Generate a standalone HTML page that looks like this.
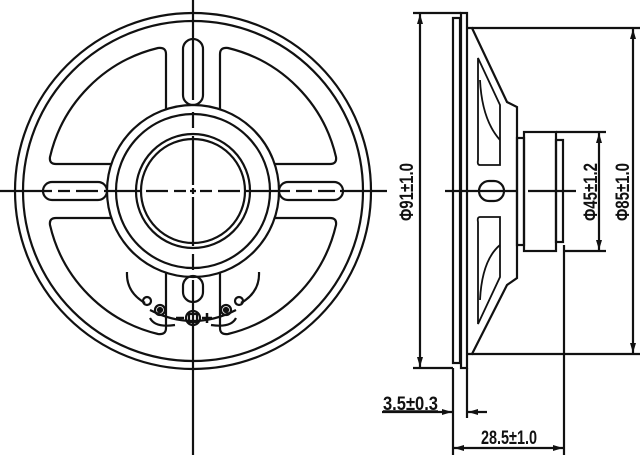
<!DOCTYPE html>
<html><head><style>html,body{margin:0;padding:0;background:#fff}svg{display:block}</style></head><body>
<svg width="640" height="455" viewBox="0 0 640 455" xmlns="http://www.w3.org/2000/svg" fill="none" stroke="#111" stroke-width="2.2">
<defs>
<marker id="a" viewBox="0 0 10 6" refX="10" refY="3" markerWidth="10" markerHeight="6" orient="auto-start-reverse" markerUnits="userSpaceOnUse"><path d="M0,0 L10,3 L0,6 Z" fill="#111" stroke="none"/></marker>
</defs>
<!-- front view -->
<circle cx="193" cy="191" r="178"/>
<circle cx="193" cy="191" r="170"/>
<circle cx="193" cy="191" r="86"/>
<circle cx="193" cy="191" r="77"/>
<circle cx="193" cy="191" r="57"/>
<circle cx="193" cy="191" r="52"/>
<g stroke-linejoin="round">
<path d="M220,109 L220,54 Q220,47 228,48 A146,146 0 0 1 336,157 Q337,164 330,164 L275,164"/>
<path d="M166,109 L166,54 Q166,47 158,48 A146,146 0 0 0 50,157 Q49,164 56,164 L111,164"/>
<path d="M275,218 L330,218 Q337,218 336,225 A146,146 0 0 1 228,334 Q220,335 220,328 L220,272"/>
<path d="M111,218 L56,218 Q49,218 50,225 A146,146 0 0 0 158,334 Q166,335 166,328 L166,272"/>
</g>
<rect x="183" y="39" width="20" height="66" rx="10"/>
<rect x="183" y="276" width="20" height="26" rx="10"/>
<rect x="43" y="182" width="64" height="18" rx="9"/>
<rect x="279" y="182" width="64" height="18" rx="9"/>
<!-- terminal -->
<path d="M127,272 Q126,292 145,303"/>
<path d="M259,272 Q260,292 241,303"/>
<path d="M150,310 Q193,332 236,310"/>
<path d="M150,318 Q155,328 175,325 M236,318 Q231,328 211,325"/>
<circle cx="147" cy="301" r="4"/><circle cx="160" cy="310" r="5"/><circle cx="160" cy="310" r="2" fill="#111"/>
<circle cx="239" cy="301" r="4"/><circle cx="226" cy="310" r="5"/><circle cx="226" cy="310" r="2" fill="#111"/>
<circle cx="193" cy="318" r="7"/><rect x="189" y="314" width="8" height="8"/>
<path d="M176,318 H184 M202,318 H212 M207,313 V323" stroke-width="2.5"/>
<!-- center lines -->
<path d="M193,0 V100 M193,112 V128 M193,136 V185 M193,188 V194 M193,197 V246 M193,254 V270 M193,280 V455"/>
<path d="M0,191 H52 M58,191 H70 M76,191 H98 M104,191 H140 M146,191 H168 M174,191 H186 M190,191 H196 M200,191 H212 M218,191 H240 M246,191 H290 M296,191 H312 M318,191 H335 M340,191 H387"/>
<!-- side view -->
<rect x="453" y="18" width="7" height="345"/>
<rect x="461" y="13" width="6" height="355"/>
<path d="M467,28 H472 L507,102 L517,107 V278 L507,285 L472,354 H467"/>
<path d="M478,58 L500,105 V165 H480 Q477,165 478,160 Z M478,324 L500,277 V217 H480 Q477,217 478,222 Z" stroke-width="1.8"/>
<path d="M480,80 Q482,120 500,140 M480,300 Q482,260 500,245" stroke-width="1.8"/>
<rect x="517" y="138" width="7" height="107"/>
<rect x="524" y="132" width="32" height="119"/>
<rect x="556" y="140" width="7" height="102"/>
<rect x="479" y="181" width="25" height="20" rx="10"/>
<path d="M445,191 H517 M528,191 H576"/>
<!-- dimensions -->
<path d="M413,13 H461 M413,368 H453"/>
<path d="M420,14 V367" marker-start="url(#a)" marker-end="url(#a)"/>
<path d="M472,28 H640 M472,354 H640"/>
<path d="M633,29 V353" marker-start="url(#a)" marker-end="url(#a)"/>
<path d="M556,132 H606 M563,251 H606"/>
<path d="M599,133 V250" marker-start="url(#a)" marker-end="url(#a)"/>
<path d="M453,368 V455 M467,368 V418 M564,245 V455"/>
<path d="M382,412 H452" marker-end="url(#a)"/>
<path d="M487,412 H468" marker-end="url(#a)"/>
<path d="M454,448 H563" marker-start="url(#a)" marker-end="url(#a)"/>
<g fill="#111" stroke="none" font-family="Liberation Sans, sans-serif" font-size="19" font-weight="bold">
<text x="383" y="410" textLength="55" lengthAdjust="spacingAndGlyphs">3.5±0.3</text>
<text x="481" y="444" textLength="56" lengthAdjust="spacingAndGlyphs">28.5±1.0</text>
<text transform="translate(413,221) rotate(-90)" textLength="58" lengthAdjust="spacingAndGlyphs">Φ91±1.0</text>
<text transform="translate(597,221) rotate(-90)" textLength="58" lengthAdjust="spacingAndGlyphs">Φ45±1.2</text>
<text transform="translate(629,221) rotate(-90)" textLength="58" lengthAdjust="spacingAndGlyphs">Φ85±1.0</text>
</g>
<path d="M383,411 H438" stroke-width="1.5"/>
</svg>
</body></html>
